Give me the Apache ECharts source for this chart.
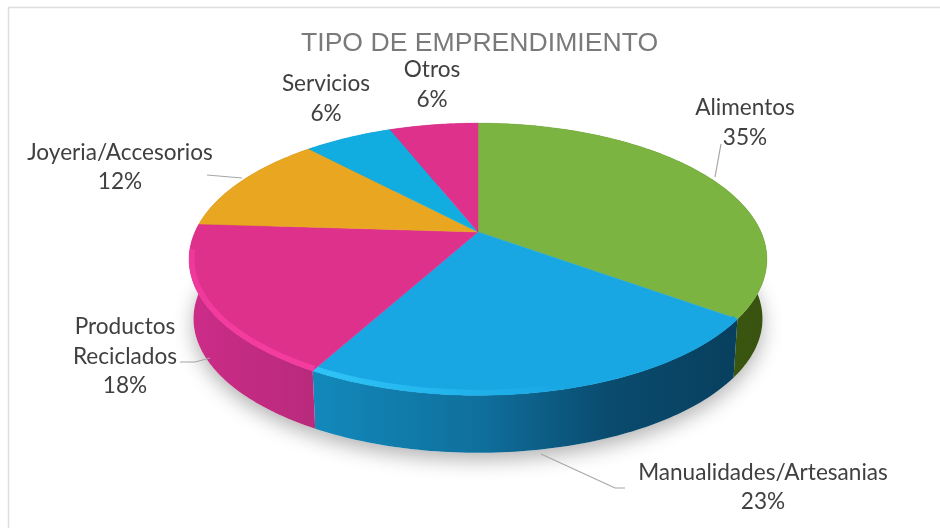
<!DOCTYPE html>
<html>
<head>
<meta charset="utf-8">
<style>
html,body{margin:0;padding:0;background:#fff}
#chart{width:940px;height:528px;filter:blur(0.55px)}
</style>
<script src="https://cdn.jsdelivr.net/npm/echarts@6/dist/echarts.min.js"></script>
</head>
<body>
<div id="chart"></div>
<script>
// ---- data ----
const chartTitle = 'TIPO DE EMPRENDIMIENTO';
const categories = ['Alimentos','Manualidades/Artesanias','Productos\nReciclados','Joyeria/Accesorios','Servicios','Otros'];
const values = [35,23,18,12,6,6];

// ---- styles ----
const faceColors = ['#7cb442','#19a7e3','#de318c','#e9a721','#12ade0','#de318c'];
const wallStops = [
  [[0,'#4e7519'],[1,'#37520f']],
  [[0,'#1289bb'],[0.4,'#0f6f9c'],[0.7,'#0a4b6e'],[1,'#083f5e']],
  [[0,'#cc2c88'],[1,'#b82a7c']],
  [[0,'#a87717'],[1,'#a87717']],
  [[0,'#0c7ea6'],[1,'#0c7ea6']],
  [[0,'#a32468'],[1,'#a32468']]
];
// bright lip along the front rim: left-to-right stops, and how much of the slice's arc it covers
const rimStops = [
  null,
  [[0,'#2fc4f7'],[0.4,'#1fb0ea'],[0.6,'#19a7e3'],[1,'#19a7e3']],
  [[0,'#ee389a'],[0.25,'#f43c9f'],[1,'#f43c9f']],
  null,null,null
];
const rimCover = [0,1,0.82,0,0,0];
// label anchors: text centre and leader-line vertices, one entry per category
const labelLayout = [
  {x:745,y:122.5,line:[[721,144],[715,177]]},
  {x:763,y:487,line:[[541,454],[615,488],[625,488]]},
  {x:125,y:356.5,line:[[180,362],[195,362],[210,358]]},
  {x:120,y:167,line:[[207,175],[242,178]]},
  {x:326,y:98.5,line:null},
  {x:432,y:84.5,line:null}
];
// perspective disc
const disc = {cx:478,cy:232,a:283,b:130.6,k:0.2,depth:60,shrink:0.985};

const total = values.reduce((s,v)=>s+v,0);
const starts = [];
values.reduce((s,v,i)=>{starts[i]=s;return s+v;},0);

function project(theta,lower){
  const X=Math.sin(theta),Y=Math.cos(theta),d=1+disc.k*Y;
  const s=lower?disc.shrink:1;
  return [disc.cx+s*disc.a*X/d, disc.cy-s*disc.b*Y/d+(lower?disc.depth:0)];
}
function arc(from,to,lower){
  const pts=[],n=Math.max(2,Math.ceil((to-from)/(Math.PI/180)));
  for(let i=0;i<=n;i++)pts.push(project(from+(to-from)*i/n,lower));
  return pts;
}
function range(i,v){
  const f=starts[i]/total*2*Math.PI;
  return [f,f+v/total*2*Math.PI];
}
function xExtent(pts){
  const xs=pts.map(p=>p[0]);
  return [Math.min(...xs),Math.max(...xs)];
}
function grad(pts,stops){
  const e=xExtent(pts);
  return new echarts.graphic.LinearGradient(e[0],0,e[1],0,stops.map(s=>({offset:s[0],color:s[1]})),true);
}

const seriesData = values.map((v,i)=>({name:categories[i],value:v}));

function renderShadow(params,api){
  const r=range(params.dataIndex,api.value(0));
  const pts=[[disc.cx,disc.cy+disc.depth]].concat(arc(r[0],r[1],true));
  return {type:'polygon',shape:{points:pts},
    style:{fill:'#ffffff',shadowBlur:20,shadowColor:'rgba(0,0,0,0.3)',shadowOffsetY:7}};
}
function renderWall(params,api){
  const i=params.dataIndex,r=range(i,api.value(0));
  const top=arc(r[0],r[1],false),bot=arc(r[0],r[1],true).reverse();
  const pts=top.concat(bot);
  return {type:'polygon',shape:{points:pts},style:{fill:grad(pts,wallStops[i]),stroke:null}};
}
function renderFace(params,api){
  const i=params.dataIndex,r=range(i,api.value(0));
  const rim=arc(r[0],r[1],false);
  const pts=[[disc.cx,disc.cy]].concat(rim);
  const children=[{type:'polygon',shape:{points:pts},style:{fill:faceColors[i],stroke:faceColors[i],lineWidth:0.5}}];
  if(rimStops[i]){
    const part=rim.slice(0,Math.ceil(rim.length*rimCover[i]));
    const inner=part.map(p=>[p[0]+(disc.cx-p[0])*0.009,p[1]+(disc.cy+27-p[1])*0.02]);
    children.push({type:'polyline',shape:{points:inner},
      style:{fill:null,stroke:grad(inner,rimStops[i]),lineWidth:5.5}});
  }
  return {type:'group',children};
}
function renderLabel(params,api){
  const i=params.dataIndex,l=labelLayout[i];
  const pct=Math.round(api.value(0)/total*100)+'%';
  const children=[{type:'text',style:{
    text:categories[i]+'\n'+pct,x:l.x,y:l.y,align:'center',verticalAlign:'middle',
    fontFamily:'Lato',fontSize:22.6,lineHeight:29.5,fill:'#404040'}}];
  if(l.line)children.push({type:'polyline',shape:{points:l.line},
    style:{fill:null,stroke:'#a6a6a6',lineWidth:1.2}});
  return {type:'group',children};
}

const chart = echarts.init(document.getElementById('chart'),null,{renderer:'canvas'});
chart.setOption({
  animation:false,
  backgroundColor:'#ffffff',
  title:{text:chartTitle,left:296,top:25,
    textStyle:{fontFamily:'Liberation Sans',fontSize:26.6,fontWeight:'normal',color:'#7a7a7a'}},
  graphic:[{type:'rect',z:-10,silent:true,shape:{x:8.5,y:7.5,width:1000,height:600},
    style:{fill:'#ffffff',stroke:'#dedede',lineWidth:1.5}}],
  series:[
    {type:'custom',coordinateSystem:'none',z:1,silent:true,data:seriesData,renderItem:renderShadow},
    {type:'custom',coordinateSystem:'none',z:2,silent:true,data:seriesData,renderItem:renderWall},
    {type:'custom',coordinateSystem:'none',z:3,silent:true,data:seriesData,renderItem:renderFace},
    {type:'custom',coordinateSystem:'none',z:4,silent:true,data:seriesData,renderItem:renderLabel}
  ]
});
</script>
</body>
</html>
